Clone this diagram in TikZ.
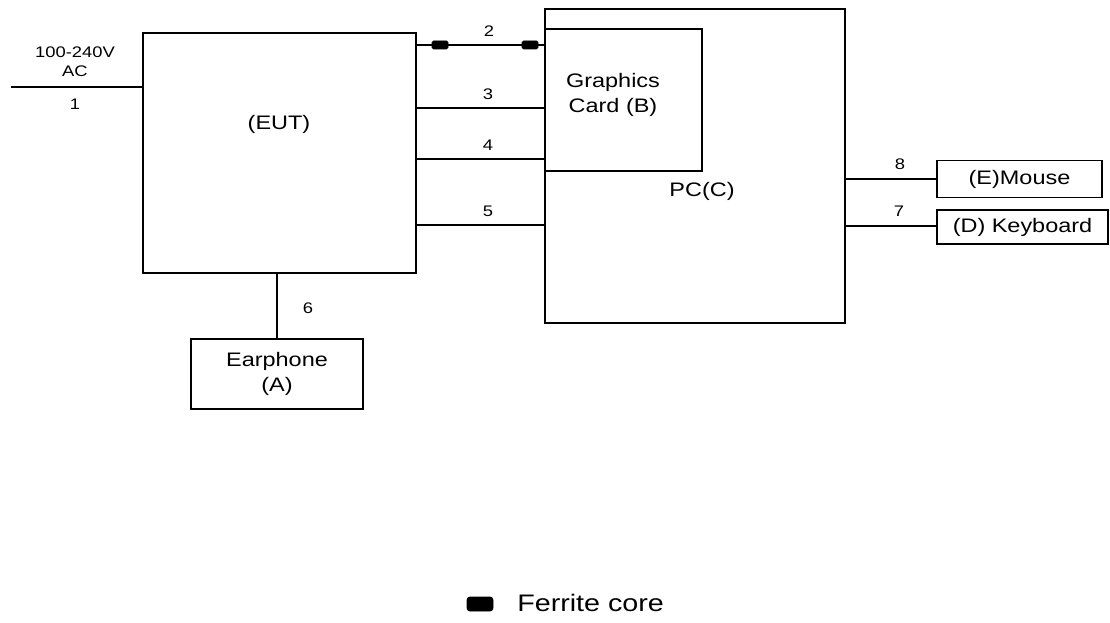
\documentclass[tikz,border=0pt]{standalone}
\usepackage{fontspec}
\setmainfont[FakeStretch=1.2]{Liberation Sans}
\usepackage{tikz}
\usetikzlibrary{positioning,calc}
\definecolor{ink}{HTML}{000000}
\tikzset{
  unitbox/.style={draw=ink,fill=white,line width=1.4pt,
                  inner sep=0pt,align=center,
                  font=\fontsize{13.9}{17.8}\selectfont},
  devbox/.style={draw=ink,line width=1.4pt,inner sep=0pt,align=center,
                 font=\fontsize{13.9}{17.8}\selectfont},
  numlbl/.style={inner sep=0pt,font=\fontsize{10.9}{13.5}\selectfont},
  wire/.style={line width=1.4pt,color=ink},
  ferrite/.style={fill=ink,draw=ink,rounded corners=1pt,
                  minimum width=16*0.025cm,minimum height=8*0.025cm,inner sep=0pt}
}

\begin{document}
\begin{tikzpicture}[x=0.025cm,y=-0.025cm]
  \useasboundingbox (0,0) rectangle (1110,623);
  % units
  \node[unitbox,minimum width=273*0.025cm,minimum height=240*0.025cm] (eut) at (279.5,153) {};
  \node[devbox,minimum width=300*0.025cm,minimum height=314*0.025cm] (pc) at (695,166) {};
  \node[devbox,minimum width=157*0.025cm,minimum height=142*0.025cm] (gfx) at (623.5,100) {};
  \node[devbox,minimum width=165*0.025cm,minimum height=37*0.025cm] (mouse) at (1019.5,179) {(E)Mouse};
  \node[devbox,minimum width=171*0.025cm,minimum height=34*0.025cm] (kbd) at (1022.5,227) {(D) Keyboard};
  \node[devbox,minimum width=172*0.025cm,minimum height=70*0.025cm] (ear) at (277,374) {Earphone\\(A)};
  \node[inner sep=0pt,font=\fontsize{13.9}{17.8}\selectfont] (eutlbl) at (279,124) {(EUT)};
  \node[inner sep=0pt,align=center,font=\fontsize{13.9}{17.8}\selectfont] (gfxlbl) at (613,95) {Graphics\\Card (B)};
  \node[inner sep=0pt,font=\fontsize{13.9}{17.8}\selectfont] (pclbl) at (702,191) {PC(C)};

  % power input
  \coordinate (mains) at (11,87);
  \draw[wire] (mains) -- (mains -| eut.west);
  \node[numlbl,align=center] (acl) at (75,62) {100-240V\\AC};
  \node[numlbl] (l1) at (75,104) {1};

  % cables EUT -> PC
  \draw[wire] (eut.east |- 0,45) -- (pc.west |- 0,45);
  \node[ferrite] (fc1) at (440,45) {};
  \node[ferrite] (fc2) at (530,45) {};
  \node[numlbl] (l2) at (489,31) {2};
  \foreach \n/\yy in {3/108,4/159,5/225} {
    \draw[wire] (eut.east |- 0,\yy) -- (pc.west |- 0,\yy);
    \node[numlbl] (l\n) at (488,\yy-14) {\n};
  }

  % earphone
  \draw[wire] (ear.north |- eut.south) -- (ear.north);
  \node[numlbl] (l6) at (308,308) {6};

  % peripherals
  \draw[wire] (pc.east |- mouse.west) -- (mouse.west);
  \node[numlbl] (l8) at (900,164) {8};
  \draw[wire] (pc.east |- 0,226) -- (kbd.west |- 0,226);
  \node[numlbl] (l7) at (899,211) {7};

  % legend
  \node[ferrite,minimum width=26*0.025cm,minimum height=14*0.025cm,rounded corners=2pt] (key) at (480,604) {};
  \node[anchor=west,inner sep=0pt,font=\fontsize{17}{20}\selectfont] (keytxt) at (517,603) {Ferrite core};
\end{tikzpicture}
\end{document}
